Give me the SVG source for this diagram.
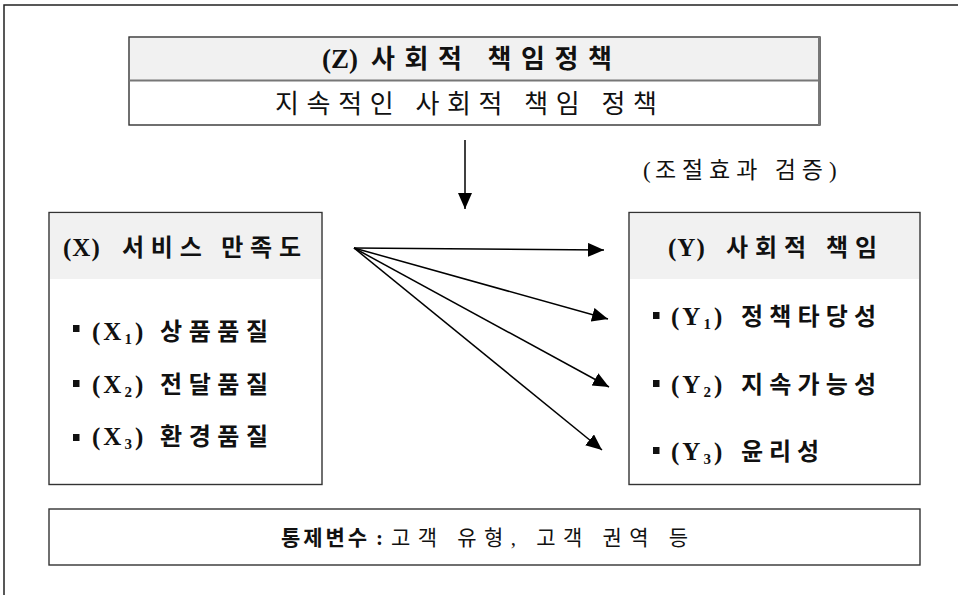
<svg xmlns="http://www.w3.org/2000/svg" width="958" height="595" viewBox="0 0 958 595">
<defs>
<style>
.t{font-family:"Liberation Serif","Noto Sans CJK KR",serif;fill:#111}
.b{font-weight:bold}
.box{fill:#fff;stroke:#333;stroke-width:1.4}
.hdr{fill:#f1f1f1}
.bul{fill:#111}
.con{stroke:#000;stroke-width:1.5;fill:none}
</style>
<marker id="ah" markerUnits="userSpaceOnUse" markerWidth="17" markerHeight="15" refX="16" refY="7" orient="auto">
<path d="M0,0 L16,7 L0,14 z" fill="#000"/>
</marker>
</defs>
<rect width="958" height="595" fill="#fff"/>
<path d="M4,595 L4,5 L958,5" fill="none" stroke="#222" stroke-width="1.5"/>

<g id="nodeZ">
<rect class="box" x="129" y="37" width="691" height="88"/>
<rect class="hdr" x="130" y="38" width="689" height="42"/>
<line x1="129" y1="80.5" x2="820" y2="80.5" stroke="#777" stroke-width="2"/>
<line x1="819" y1="37" x2="819" y2="125" stroke="#777" stroke-width="2"/>
<text class="t b" x="322" y="68" font-size="27">(Z)</text>
<text class="t b" x="371" y="68" font-size="26" textLength="241" lengthAdjust="spacing">사회적 책임정책</text>
<text class="t" x="275" y="113" font-size="26" textLength="382" lengthAdjust="spacing">지속적인 사회적 책임 정책</text>
</g>

<g id="label-moderation">
<text class="t" x="643" y="178" font-size="23">(</text>
<text class="t" x="655" y="178" font-size="23" textLength="168" lengthAdjust="spacing">조절효과 검증</text>
<text class="t" x="829" y="178" font-size="23">)</text>
</g>

<g id="nodeX">
<rect class="box" x="49" y="212.5" width="273" height="272"/>
<rect class="hdr" x="50" y="213.5" width="271" height="65.5"/>
<text class="t b" x="63" y="256" font-size="25" letter-spacing="1">(X)</text>
<text class="t b" x="122" y="256" font-size="24" textLength="179" lengthAdjust="spacing">서비스 만족도</text>
<g class="t b" font-size="24">
<rect class="bul" x="73" y="325" width="6.5" height="7"/>
<text x="92" y="340" font-size="25" letter-spacing="3">(X<tspan font-size="15" dy="4">1</tspan><tspan dy="-4">)</tspan></text>
<text x="160" y="340" textLength="108" lengthAdjust="spacing">상품품질</text>
<rect class="bul" x="73" y="380" width="6.5" height="7"/>
<text x="92" y="393" font-size="25" letter-spacing="3">(X<tspan font-size="15" dy="4">2</tspan><tspan dy="-4">)</tspan></text>
<text x="160" y="393" textLength="108" lengthAdjust="spacing">전달품질</text>
<rect class="bul" x="73" y="434" width="6.5" height="7"/>
<text x="92" y="445" font-size="25" letter-spacing="3">(X<tspan font-size="15" dy="4">3</tspan><tspan dy="-4">)</tspan></text>
<text x="160" y="445" textLength="108" lengthAdjust="spacing">환경품질</text>
</g>
</g>

<g id="nodeY">
<rect class="box" x="629" y="212.5" width="291" height="272"/>
<rect class="hdr" x="630" y="213.5" width="289" height="65.5"/>
<text class="t b" x="668" y="256" font-size="25" letter-spacing="1">(Y)</text>
<text class="t b" x="726" y="256" font-size="24" textLength="151" lengthAdjust="spacing">사회적 책임</text>
<g class="t b" font-size="24">
<rect class="bul" x="653" y="312" width="6.5" height="7"/>
<text x="671" y="325" font-size="25" letter-spacing="3">(Y<tspan font-size="15" dy="4">1</tspan><tspan dy="-4">)</tspan></text>
<text x="741" y="325" textLength="135" lengthAdjust="spacing">정책타당성</text>
<rect class="bul" x="653" y="380" width="6.5" height="7"/>
<text x="671" y="393" font-size="25" letter-spacing="3">(Y<tspan font-size="15" dy="4">2</tspan><tspan dy="-4">)</tspan></text>
<text x="741" y="393" textLength="135" lengthAdjust="spacing">지속가능성</text>
<rect class="bul" x="653" y="447" width="6.5" height="7"/>
<text x="671" y="460" font-size="25" letter-spacing="3">(Y<tspan font-size="15" dy="4">3</tspan><tspan dy="-4">)</tspan></text>
<text x="741" y="460" textLength="78" lengthAdjust="spacing">윤리성</text>
</g>
</g>

<g id="nodeControl">
<rect class="box" x="49" y="509" width="871" height="56"/>
<text class="t b" x="281" y="545" font-size="21" textLength="86" lengthAdjust="spacing">통제변수</text>
<text class="t b" x="376" y="545" font-size="21">:</text>
<text class="t" x="391" y="545" font-size="21" textLength="297" lengthAdjust="spacing">고객 유형, 고객 권역 등</text>
</g>

<g id="connectors">
<line class="con" x1="465" y1="140" x2="465" y2="209" marker-end="url(#ah)"/>
<line class="con" x1="354" y1="248" x2="604" y2="250" marker-end="url(#ah)"/>
<line class="con" x1="354" y1="248" x2="608" y2="319" marker-end="url(#ah)"/>
<line class="con" x1="354" y1="248" x2="609" y2="387" marker-end="url(#ah)"/>
<line class="con" x1="354" y1="248" x2="602" y2="450" marker-end="url(#ah)"/>
</g>
</svg>
